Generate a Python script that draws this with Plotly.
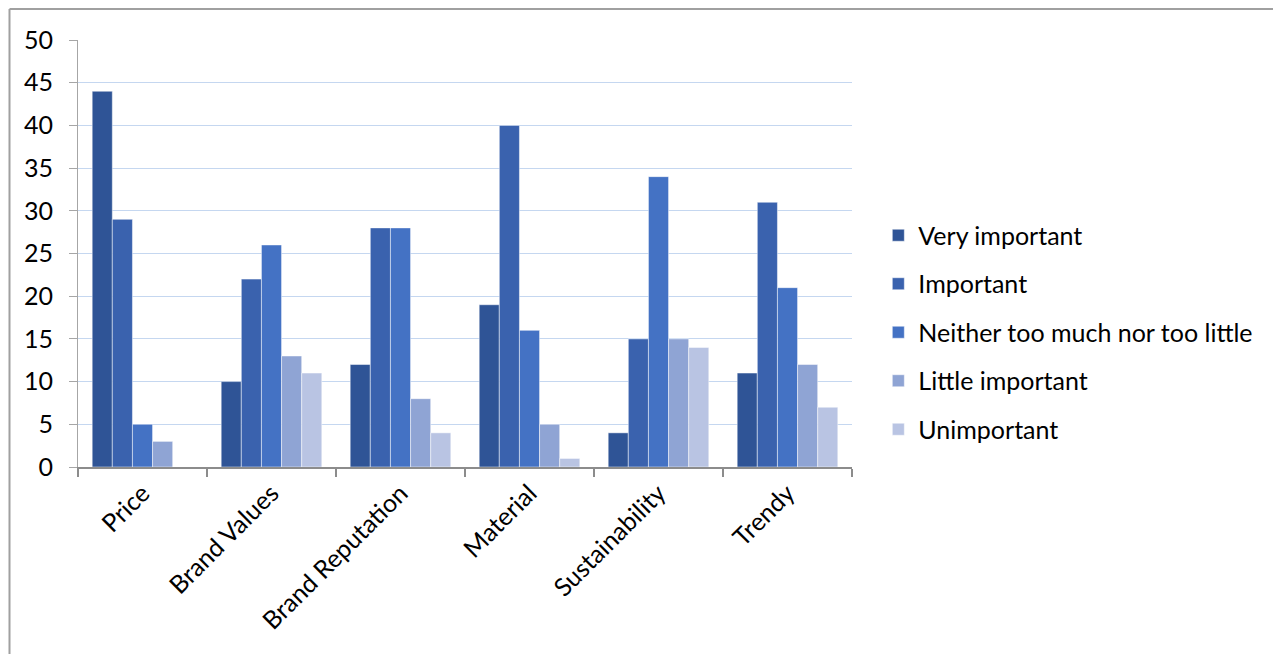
import plotly.graph_objects as go

categories = ["Price", "Brand Values", "Brand Reputation", "Material", "Sustainability", "Trendy"]
series_names = ["Very important", "Important", "Neither too much nor too little",
                "Little important", "Unimportant"]
very_important = [44, 10, 12, 19, 4, 11]
important = [29, 22, 28, 40, 15, 31]
neither = [5, 26, 28, 16, 34, 21]
little_important = [3, 13, 8, 5, 15, 12]
unimportant = [0, 11, 4, 1, 14, 7]
y_ticks = [0, 5, 10, 15, 20, 25, 30, 35, 40, 45, 50]

series_values = [very_important, important, neither, little_important, unimportant]
colors = ["#2f5496", "#3a62ae", "#4472c4", "#8fa4d4", "#b9c4e3"]

FONT = "Lato, Open Sans, sans-serif"

fig = go.Figure()
for i, (name, vals, col) in enumerate(zip(series_names, series_values, colors)):
    fig.add_trace(go.Bar(
        x=categories, y=vals, name=name,
        marker=dict(color=col, line=dict(color="rgba(255,255,255,0.6)", width=0.8)),
        legendgroup=f"g{i}",
    ))

fig.update_layout(
    width=1273, height=654,
    margin=dict(l=78, r=421, t=40, b=187),
    paper_bgcolor="white", plot_bgcolor="white",
    barmode="group", bargap=0.22, bargroupgap=0,
    font=dict(family=FONT, color="#000000"),
    legend=dict(
        x=1.034, y=0.315, xanchor="left", yanchor="middle",
        font=dict(size=25, family=FONT),
        tracegroupgap=13, itemwidth=30,
        bgcolor="rgba(0,0,0,0)",
    ),
    xaxis=dict(
        showline=True, linecolor="#8c8c8c", linewidth=1.5,
        ticks="outside", tickson="boundaries", ticklen=8, tickcolor="#8c8c8c",
        tickwidth=1.5, tickangle=-45, tickfont=dict(size=25, family=FONT),
        showgrid=False,
    ),
    yaxis=dict(
        range=[0, 50], tickvals=y_ticks,
        showline=True, linecolor="#a6a6a6", linewidth=1.2,
        ticks="outside", ticklen=8, tickcolor="#a6a6a6",
        tickfont=dict(size=25, family=FONT), ticklabelstandoff=11,
        showgrid=True, gridcolor="#c5d7f0", gridwidth=1,
        zeroline=False,
    ),
    shapes=[
        dict(type="line", xref="paper", yref="paper",
             x0=-0.0885, x1=-0.0885, y0=1.0726, y1=-0.5,
             line=dict(color="#a0a0a0", width=2)),
        dict(type="line", xref="paper", yref="paper",
             x0=-0.0885, x1=1.6, y0=1.0726, y1=1.0726,
             line=dict(color="#a0a0a0", width=2)),
    ],
)

fig.write_html("out.html")
